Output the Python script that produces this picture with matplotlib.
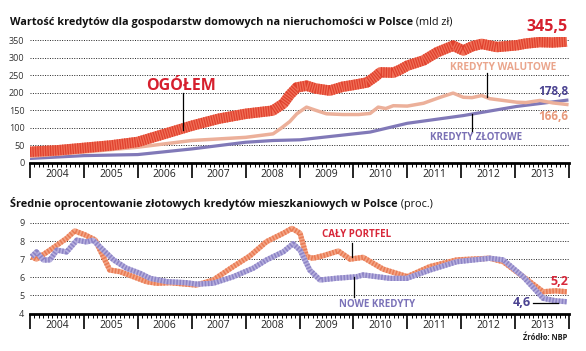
import matplotlib.pyplot as plt
from matplotlib.ticker import MultipleLocator

plt.rcParams['font.family'] = ['Open Sans', 'DejaVu Sans']

# top panel - value of housing loans (bn zl)
total_years = [2004.0, 2004.5, 2005.0, 2005.5, 2006.0, 2006.5, 2007.0, 2007.5, 2008.0, 2008.5,
               2008.7, 2008.82, 2008.95, 2009.13, 2009.3, 2009.56, 2009.8, 2010.0, 2010.25, 2010.4,
               2010.5, 2010.74, 2010.86, 2011.0, 2011.3, 2011.55, 2011.85, 2012.04, 2012.2, 2012.38,
               2012.66, 2013.03, 2013.2, 2013.46, 2013.7, 2013.96]
total_vals = [32, 36, 43, 50, 60, 83, 106, 126, 140, 149,
              169, 194, 215, 220, 212, 206, 217, 222, 229, 245,
              258, 257, 265, 277, 292, 315, 334, 320, 332, 339,
              330, 335, 340, 344, 343, 345.5]

fx_years = [2004.0, 2005.0, 2006.0, 2007.0, 2008.0, 2008.51, 2008.65, 2008.82, 2008.95, 2009.13,
            2009.3, 2009.5, 2009.8, 2010.1, 2010.31, 2010.46, 2010.6, 2010.74, 2011.0, 2011.3,
            2011.61, 2011.85, 2012.04, 2012.2, 2012.38, 2012.53, 2013.03, 2013.2, 2013.46, 2013.7, 2013.96]
fx_vals = [19, 31, 45, 64, 73, 83, 98, 118, 140, 159,
           150, 140, 138, 138, 141, 159, 155, 163, 162, 170,
           187, 199, 187, 186, 192, 183, 173, 172, 178, 171, 166.6]

pln_years = [2004.0, 2005.0, 2006.0, 2007.0, 2008.0, 2008.51, 2009.01, 2010.31, 2011.0, 2012.04,
             2013.03, 2013.96]
pln_vals = [13, 21, 24, 40, 59, 64, 66, 88, 113, 135, 161, 178.8]

# bottom panel - average interest rate of zloty housing loans (%)
port_years = [2004.03, 2004.12, 2004.37, 2004.68, 2004.83, 2005.02, 2005.21, 2005.3, 2005.48, 2005.67,
              2005.92, 2006.16, 2006.35, 2006.6, 2006.9, 2007.09, 2007.4, 2007.77, 2008.08, 2008.39,
              2008.7, 2008.86, 2009.01, 2009.13, 2009.25, 2009.45, 2009.72, 2009.94, 2010.18, 2010.55,
              2011.0, 2011.42, 2011.92, 2012.53, 2012.78, 2013.15, 2013.52, 2013.75, 2013.96]
port_vals = [7.14, 7.0, 7.5, 8.15, 8.56, 8.34, 8.06, 7.5, 6.4, 6.31,
             6.03, 5.76, 5.67, 5.7, 5.62, 5.57, 5.85, 6.59, 7.18, 7.97,
             8.43, 8.7, 8.43, 7.14, 7.05, 7.2, 7.45, 7.0, 7.1, 6.45,
             6.03, 6.59, 6.96, 7.05, 6.86, 6.03, 5.2, 5.25, 5.2]

new_years = [2004.03, 2004.12, 2004.25, 2004.37, 2004.5, 2004.68, 2004.87, 2005.05, 2005.17, 2005.36,
             2005.55, 2005.79, 2006.04, 2006.23, 2006.54, 2006.9, 2007.1, 2007.4, 2007.77, 2008.14,
             2008.39, 2008.7, 2008.88, 2009.01, 2009.19, 2009.38, 2009.7, 2010.06, 2010.18, 2010.68,
             2010.99, 2011.42, 2011.92, 2012.53, 2012.78, 2013.15, 2013.52, 2013.75, 2013.96]
new_vals = [7.14, 7.4, 6.95, 6.96, 7.5, 7.4, 8.05, 7.95, 8.05, 7.5,
            6.96, 6.5, 6.22, 5.94, 5.76, 5.7, 5.62, 5.67, 6.03, 6.5,
            6.96, 7.41, 7.85, 7.5, 6.4, 5.85, 5.95, 6.03, 6.13, 5.94,
            5.94, 6.4, 6.86, 7.05, 6.96, 6.03, 4.84, 4.7, 4.65]

years = list(range(2004, 2014))

fig = plt.figure(figsize=(5.86, 3.51), dpi=100)
ax1 = fig.add_axes([30/586, 188/351, 539/586, 126.5/351])
ax2 = fig.add_axes([30/586, 37.5/351, 539/586, 96/351])


def style(ax, yticks):
    for s in ['top', 'right', 'left']:
        ax.spines[s].set_visible(False)
    ax.spines['bottom'].set_linewidth(2)
    ax.set_xlim(2004, 2014)
    ax.set_yticks(yticks)
    ax.tick_params(axis='y', length=0, labelsize=6.5, pad=4, labelcolor='#333333')
    ax.grid(axis='y', linestyle=(0, (1, 1.5)), color='#222222', lw=0.7)
    ax.set_axisbelow(True)
    ax.set_xticks(range(2004, 2015))
    ax.set_xticklabels([])
    ax.xaxis.set_minor_locator(MultipleLocator(1/12))
    ax.tick_params(axis='x', which='major', length=11, width=1.2)
    ax.tick_params(axis='x', which='minor', length=3, width=0.7)
    for y in years:
        ax.annotate(str(y), (y + 0.5, 0), xycoords=('data', 'axes fraction'),
                    xytext=(0, -4.5), textcoords='offset points',
                    ha='center', va='top', fontsize=7.5, color='#222222')


def textured(ax, x, y, lw, base, dark, dash):
    ax.plot(x, y, color=base, lw=lw, solid_capstyle='butt', solid_joinstyle='round')
    ax.plot(x, y, color=dark, lw=lw, dashes=dash, dash_capstyle='butt')


# top panel
style(ax1, range(0, 351, 50))
ax1.set_ylim(0, 360)
ax1.plot(pln_years, pln_vals, color='#8179b8', lw=2.3)
ax1.plot(fx_years, fx_vals, color='#ecb09a', lw=2.5)
textured(ax1, total_years, total_vals, 7.5, '#f07058', '#e0412e', (0.12, 0.12))

ax1.text(2006.80, 218, 'OGÓŁEM', color='#d6202e', fontsize=11.5, fontweight='bold',
         ha='center', va='center')
ax1.plot([2006.84, 2006.84], [198, 93], color='black', lw=0.9)
ax1.text(2013.98, 387, '345,5', color='#d6202e', fontsize=11.5, fontweight='bold',
         ha='right', va='center')
ax1.text(2012.78, 272, 'KREDYTY WALUTOWE', color='#eaa58c', fontsize=7.3, fontweight='bold',
         ha='center', va='center')
ax1.plot([2012.48, 2012.48], [255, 188], color='black', lw=0.9)
ax1.text(2013.98, 204, '178,8', color='#4b4391', fontsize=8.5, fontweight='bold',
         ha='right', va='center')
ax1.text(2013.98, 133, '166,6', color='#e8997a', fontsize=8.5, fontweight='bold',
         ha='right', va='center')
ax1.text(2012.27, 72, 'KREDYTY ZŁOTOWE', color='#7a70b5', fontsize=7.0, fontweight='bold',
         ha='center', va='center')
ax1.plot([2012.2, 2012.2], [140, 88], color='black', lw=0.9)

# bottom panel
style(ax2, range(4, 10))
ax2.set_ylim(4, 9.3)
textured(ax2, port_years, port_vals, 3.8, '#f4a586', '#e97c55', (0.3, 0.3))
textured(ax2, new_years, new_vals, 3.8, '#b7b0de', '#8d84c6', (0.3, 0.3))

ax2.text(2010.06, 8.34, 'CAŁY PORTFEL', color='#d8283a', fontsize=7.0, fontweight='bold',
         ha='center', va='center')
ax2.plot([2009.97, 2009.97], [7.9, 7.1], color='black', lw=0.9)
ax2.text(2010.44, 4.52, 'NOWE KREDYTY', color='#7b72b8', fontsize=7.0, fontweight='bold',
         ha='center', va='center')
ax2.plot([2010.02, 2010.02], [6.0, 4.9], color='black', lw=0.9)
ax2.text(2013.98, 5.74, '5,2', color='#d8283a', fontsize=9, fontweight='bold',
         ha='right', va='center')
ax2.text(2013.3, 4.6, '4,6', color='#4b4391', fontsize=9, fontweight='bold',
         ha='right', va='center')
ax2.plot([2013.33, 2013.8], [4.6, 4.6], color='black', lw=0.9)

# titles
t1 = fig.text(10/586, 1 - 22/351, 'Wartość kredytów dla gospodarstw domowych na nieruchomości w Polsce',
              fontsize=7.8, fontweight='bold', va='center', color='#111111')
ax1.annotate(' (mld zł)', xy=(1, 0), xycoords=t1, va='bottom', fontsize=7.8, color='#111111')
t2 = fig.text(10/586, 1 - 203/351, 'Średnie oprocentowanie złotowych kredytów mieszkaniowych w Polsce',
              fontsize=7.8, fontweight='bold', va='center', color='#111111')
ax2.annotate(' (proc.)', xy=(1, 0), xycoords=t2, va='bottom', fontsize=7.8, color='#111111')

fig.text(567/586, 1 - 337/351, 'Źródło: NBP', fontsize=5.5, fontweight='bold',
         ha='right', va='center', color='#222222')

fig.savefig('out.png', dpi=100)
